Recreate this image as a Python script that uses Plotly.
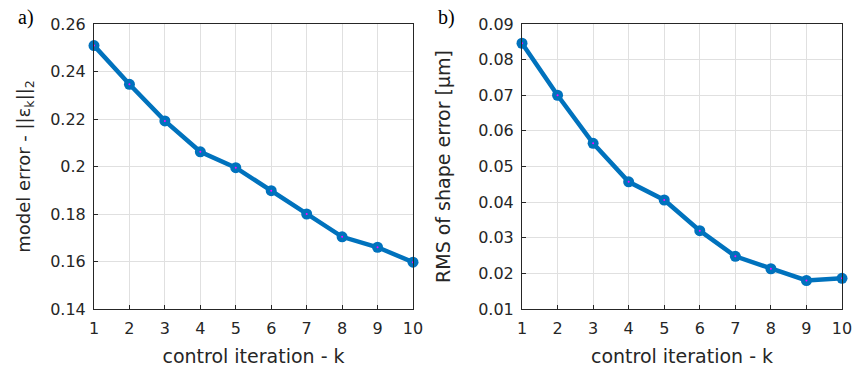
import plotly.graph_objects as go
from plotly.subplots import make_subplots

iterations = [1, 2, 3, 4, 5, 6, 7, 8, 9, 10]
model_error = [0.2509, 0.2346, 0.2192, 0.2062, 0.1995, 0.1898, 0.1800, 0.1704, 0.1660, 0.1597]
rms_shape_error = [0.0846, 0.0700, 0.0565, 0.0457, 0.0406, 0.0320, 0.0248, 0.0213, 0.0180, 0.0186]

left_yticks = [0.14, 0.16, 0.18, 0.2, 0.22, 0.24, 0.26]
right_yticks = [0.01, 0.02, 0.03, 0.04, 0.05, 0.06, 0.07, 0.08, 0.09]

LINE = "#0072BD"
TXT = "#262626"
FONT = "DejaVu Sans"

fig = make_subplots(rows=1, cols=2)

for col, yv in [(1, model_error), (2, rms_shape_error)]:
    fig.add_trace(go.Scatter(x=iterations, y=yv, mode="lines+markers",
                             line=dict(color=LINE, width=4.5),
                             marker=dict(color=LINE, size=11),
                             showlegend=False, hoverinfo="skip", cliponaxis=False), row=1, col=col)
    fig.add_trace(go.Scatter(x=iterations, y=yv, mode="markers",
                             marker=dict(color="#ff00ff", size=2),
                             showlegend=False, hoverinfo="skip", cliponaxis=False), row=1, col=col)

axis_common = dict(showline=True, linecolor=TXT, linewidth=1, mirror=True,
                   showgrid=True, gridcolor="#e0e0e0", gridwidth=1,
                   ticks="inside", ticklen=4, tickcolor=TXT, zeroline=False,
                   automargin=False,
                   tickfont=dict(family=FONT, size=16, color=TXT))

fig.update_xaxes(**axis_common, range=[1, 10], tickvals=iterations, ticklabelstandoff=5,
                 title=dict(text="control iteration - k", font=dict(family=FONT, size=19, color=TXT), standoff=12))
fig.update_yaxes(**axis_common, ticklabelstandoff=4)
fig.update_yaxes(range=[0.14, 0.26], tickvals=left_yticks,
                 ticktext=[f"{v:g}" for v in left_yticks],
                 title=dict(text="model error - ||ε<sub>k</sub>||<sub>2</sub>",
                            font=dict(family=FONT, size=18, color=TXT), standoff=14),
                 row=1, col=1)
fig.update_yaxes(range=[0.01, 0.09], tickvals=right_yticks,
                 ticktext=[f"{v:g}" for v in right_yticks],
                 title=dict(text="RMS of shape error [µm]",
                            font=dict(family=FONT, size=19, color=TXT), standoff=22),
                 row=1, col=2)

fig.update_layout(
    width=855, height=368,
    margin=dict(l=0, r=0, t=0, b=0),
    paper_bgcolor="white", plot_bgcolor="white",
    xaxis=dict(domain=[94/855, 413/855]),
    xaxis2=dict(domain=[522/855, 842/855]),
    yaxis=dict(domain=[1-309/368, 1-24/368]),
    yaxis2=dict(domain=[1-309/368, 1-24/368]),
    annotations=[
        dict(text="a)", x=16/855, y=1-4/368, xref="paper", yref="paper",
             xanchor="left", yanchor="top", showarrow=False,
             font=dict(family="Liberation Serif", size=20, color="black")),
        dict(text="b)", x=436/855, y=1-4/368, xref="paper", yref="paper",
             xanchor="left", yanchor="top", showarrow=False,
             font=dict(family="Liberation Serif", size=20, color="black")),
    ],
)

fig.write_html("out.html", config={"displayModeBar": False},
               post_script="document.body.style.margin='0';document.body.style.overflow='hidden';")
